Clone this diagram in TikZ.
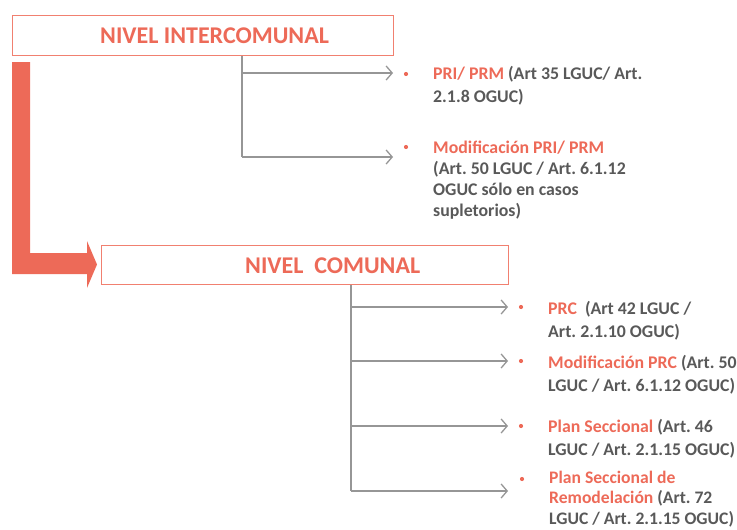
\documentclass[tikz,border=0pt]{standalone}
\usepackage{fontspec}
\setmainfont{Carlito}
\usetikzlibrary{arrows.meta}
\definecolor{salmon}{RGB}{237,106,88}
\definecolor{boxline}{RGB}{241,128,112}
\definecolor{linkgray}{RGB}{150,150,150}
\definecolor{bodygray}{RGB}{89,89,89}
\tikzset{
  levelbox/.style={draw=boxline, line width=1.3pt, fill=white, inner sep=0pt},
  leveltitle/.style={text=salmon, font=\bfseries\fontsize{24}{28}\selectfont, inner sep=0pt, anchor=base west},
  link/.style={draw=linkgray, line width=1.3pt},
  linkarrow/.style={link, -{Straight Barb[length=6pt,width=14pt,line width=1.3pt]}},
  dot/.style={circle, fill=salmon, inner sep=0pt, minimum size=4.2pt},
  item/.style={text=bodygray, font=\bfseries\fontsize{17.8}{22.5}\selectfont, align=left, inner sep=0pt, anchor=north west},
  tightitem/.style={item, font=\bfseries\fontsize{17.8}{21.2}\selectfont},
  lastitem/.style={item, font=\bfseries\fontsize{17.6}{20.6}\selectfont},
}
\newcommand{\hl}[1]{{\color{salmon}#1}}
\frenchspacing
\begin{document}
\begin{tikzpicture}[x=1pt,y=-1pt]
\useasboundingbox (0,0) rectangle (737,530);

% level boxes
\node[levelbox, minimum width=381pt, minimum height=40pt, anchor=north west] (inter) at (12,15) {};
\node[leveltitle] (intertitle) at (100,43) {NIVEL INTERCOMUNAL};
\node[levelbox, minimum width=407pt, minimum height=39pt, anchor=north west] (comunal) at (101,245) {};
\node[leveltitle] (comunaltitle) at (245,273) {NIVEL\ \ COMUNAL};

% thick bent arrow from the intercommunal level down to the communal level
\fill[salmon] (12,62) -- (30,62) -- (30,253) -- (87,253) -- (87,241) -- (97,264.5)
  -- (87,288) -- (87,274) -- (12,274) -- cycle;

% branches of the intercommunal level
\coordinate (t1) at (242,73);
\coordinate (t2) at (242,157);
\coordinate (e1) at (393,73);
\coordinate (e2) at (393,157);
\draw[link] (inter.south -| t1) -- (t2);
\draw[linkarrow] (t1) -- (e1);
\draw[linkarrow] (t2) -- (e2);

% branches of the communal level
\coordinate (c1) at (351,307);
\coordinate (c2) at (351,361);
\coordinate (c3) at (351,426);
\coordinate (c4) at (351,491);
\coordinate (f1) at (508,307);
\coordinate (f2) at (508,361);
\coordinate (f3) at (508,426);
\coordinate (f4) at (508,491);
\draw[link] (comunal.south -| c1) -- (c4);
\foreach \i in {1,...,4} \draw[linkarrow] (c\i) -- (f\i);

% bullets
\node[dot] (b1) at (406,74) {};
\node[dot] (b2) at (406,147) {};
\node[dot] (d1) at (521,307) {};
\node[dot] (d2) at (521,361) {};
\node[dot] (d3) at (521,426) {};
\node[dot] (d4) at (522,479) {};

% item texts
\node[item] (i1) at (433,66.5) {\hl{PRI/ PRM} (Art 35 LGUC/ Art.\\2.1.8 OGUC)};
\node[tightitem] (i2) at (433,140.5) {\hl{Modificación PRI/ PRM}\\(Art. 50 LGUC / Art. 6.1.12\\OGUC sólo en casos\\supletorios)};
\node[item] (j1) at (548,301.5) {\hl{PRC}\ \ (Art 42 LGUC /\\Art. 2.1.10 OGUC)};
\node[item] (j2) at (548,355.5) {\hl{Modificación PRC} (Art. 50\\LGUC / Art. 6.1.12 OGUC)};
\node[item] (j3) at (548,419.5) {\hl{Plan Seccional} (Art. 46\\LGUC / Art. 2.1.15 OGUC)};
\node[lastitem] (j4) at (549,470.5) {\hl{Plan Seccional de}\\\hl{Remodelación} (Art. 72\\LGUC / Art. 2.1.15 OGUC)};
\end{tikzpicture}
\end{document}
